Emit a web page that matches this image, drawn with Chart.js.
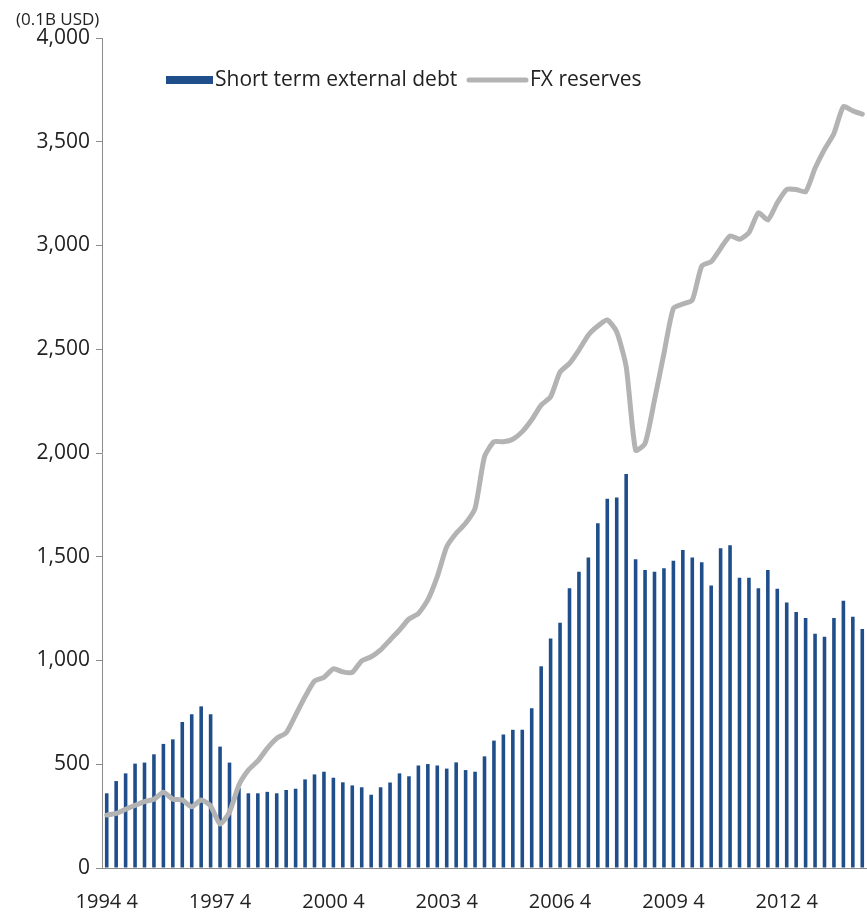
<!DOCTYPE html>
<html>
<head>
<meta charset="utf-8">
<title>Short term external debt vs FX reserves</title>
<script src="https://cdn.jsdelivr.net/npm/chart.js@4.4.1/dist/chart.umd.min.js"></script>
<style>
  html, body { margin: 0; padding: 0; background: #fff; overflow: hidden; }
  #wrap { width: 867px; height: 913px; position: relative; }
</style>
</head>
<body>
<div id="wrap"><canvas id="debtChart"></canvas></div>
<script>
// quarterly, 1994 Q4 .. 2014 Q4
const quarters = [
  "1994 4",
  "1995 1", "1995 2", "1995 3", "1995 4",
  "1996 1", "1996 2", "1996 3", "1996 4",
  "1997 1", "1997 2", "1997 3", "1997 4",
  "1998 1", "1998 2", "1998 3", "1998 4",
  "1999 1", "1999 2", "1999 3", "1999 4",
  "2000 1", "2000 2", "2000 3", "2000 4",
  "2001 1", "2001 2", "2001 3", "2001 4",
  "2002 1", "2002 2", "2002 3", "2002 4",
  "2003 1", "2003 2", "2003 3", "2003 4",
  "2004 1", "2004 2", "2004 3", "2004 4",
  "2005 1", "2005 2", "2005 3", "2005 4",
  "2006 1", "2006 2", "2006 3", "2006 4",
  "2007 1", "2007 2", "2007 3", "2007 4",
  "2008 1", "2008 2", "2008 3", "2008 4",
  "2009 1", "2009 2", "2009 3", "2009 4",
  "2010 1", "2010 2", "2010 3", "2010 4",
  "2011 1", "2011 2", "2011 3", "2011 4",
  "2012 1", "2012 2", "2012 3", "2012 4",
  "2013 1", "2013 2", "2013 3", "2013 4",
  "2014 1", "2014 2", "2014 3", "2014 4"
];

// 0.1B USD
const shortTermDebt = [
  360,
  419, 456, 503, 508,
  548, 598, 620, 704,
  741, 779, 741, 585,
  508, 385, 360, 360,
  367, 360, 376, 382,
  427, 451, 464, 435,
  413, 398, 389, 353,
  389, 412, 456, 442,
  494, 501, 494, 479,
  509, 472, 464, 538,
  614, 643, 666, 666,
  770, 972, 1106, 1182,
  1348, 1428, 1496, 1661,
  1780, 1786, 1899, 1488,
  1436, 1428, 1444, 1481,
  1533, 1496, 1473, 1362,
  1541, 1555, 1399, 1399,
  1348, 1436, 1346, 1279,
  1234, 1205, 1129, 1115,
  1205, 1288, 1211, 1152
];

const fxReserves = [
  255,
  263, 283, 302, 320,
  331, 365, 332, 328,
  295, 328, 299, 212,
  270, 400, 472, 516,
  577, 625, 652, 737,
  825, 901, 919, 960,
  945, 943, 998, 1018,
  1051, 1099, 1147, 1200,
  1227, 1292, 1404, 1548,
  1613, 1661, 1733, 1982,
  2054, 2054, 2066, 2103,
  2160, 2231, 2271, 2390,
  2432, 2496, 2569, 2612,
  2641, 2584, 2416, 2014,
  2046, 2255, 2480, 2697,
  2718, 2737, 2901, 2922,
  2986, 3046, 3030, 3062,
  3158, 3123, 3206, 3270,
  3270, 3259, 3372, 3463,
  3540, 3669, 3649, 3633
];

const shownTicks = ["1994 4", "1997 4", "2000 4", "2003 4", "2006 4", "2009 4", "2012 4"];
const unitLabel = "(0.1B USD)";

const barColor = "#1f4e8a";
const lineColor = "#b3b3b3";
const axisColor = "#8c8c8c";
const textColor = "#222";
const fontFamily = "'Open Sans', sans-serif";

Chart.defaults.font.family = fontFamily;
Chart.defaults.color = textColor;

// legend and unit label sit inside the plot, so they are painted by hand
const inlineLegend = {
  id: "inlineLegend",
  afterDraw(chart) {
    const ctx = chart.ctx;
    ctx.save();
    ctx.fillStyle = textColor;
    ctx.textBaseline = "middle";
    ctx.textAlign = "left";

    ctx.font = "17px " + fontFamily;
    ctx.fillText(unitLabel, 16, 20);

    ctx.font = "21px " + fontFamily;
    ctx.fillStyle = barColor;
    ctx.fillRect(166, 76, 47, 8);
    ctx.fillStyle = textColor;
    ctx.fillText("Short term external debt", 215, 80);

    ctx.strokeStyle = lineColor;
    ctx.lineWidth = 5;
    ctx.lineCap = "round";
    ctx.beginPath();
    ctx.moveTo(469, 80);
    ctx.lineTo(526, 80);
    ctx.stroke();
    ctx.fillText("FX reserves", 530, 80);
    ctx.restore();
  }
};

const ctx = document.getElementById("debtChart").getContext("2d");

const myChart = new Chart(ctx, {
  type: "bar",
  data: {
    labels: quarters,
    datasets: [
      {
        type: "line",
        label: "FX reserves",
        data: fxReserves,
        borderColor: lineColor,
        backgroundColor: lineColor,
        borderWidth: 5,
        pointRadius: 0,
        tension: 0.2,
        borderJoinStyle: "round",
        borderCapStyle: "round",
        fill: false,
        order: 0,
      },
      {
        label: "Short term external debt",
        data: shortTermDebt,
        backgroundColor: barColor,
        borderWidth: 0,
        barPercentage: 0.38,
        categoryPercentage: 1,
        order: 1,
      },
    ],
  },
  options: {
    responsive: true,
    maintainAspectRatio: false,
    animation: false,
    layout: {
      autoPadding: false,
      padding: { top: 38, left: 0, right: 0, bottom: 0 },
    },
    scales: {
      x: {
        grid: { display: false },
        border: { display: true, color: axisColor, width: 1 },
        ticks: {
          autoSkip: false,
          maxRotation: 0,
          minRotation: 0,
          padding: 14,
          font: { size: 20 },
          callback(value, index) {
            const label = quarters[index];
            return shownTicks.includes(label) ? label : "";
          },
        },
        afterFit(scale) {
          scale.height = 45;
          scale.paddingLeft = 0;
          scale.paddingRight = 0;
        },
      },
      y: {
        min: 0,
        max: 4000,
        grid: {
          drawOnChartArea: false,
          drawTicks: true,
          tickLength: 6,
          color: axisColor,
        },
        border: { display: true, color: axisColor, width: 1 },
        ticks: {
          stepSize: 500,
          padding: 6,
          font: { size: 21 },
          callback(value) {
            return value.toLocaleString("en-US");
          },
        },
        afterFit(scale) {
          scale.width = 102;
          scale.paddingTop = 0;
          scale.paddingBottom = 0;
        },
      },
    },
    plugins: {
      legend: { display: false },
      tooltip: { enabled: false },
    },
  },
  plugins: [inlineLegend],
});
</script>
</body>
</html>
